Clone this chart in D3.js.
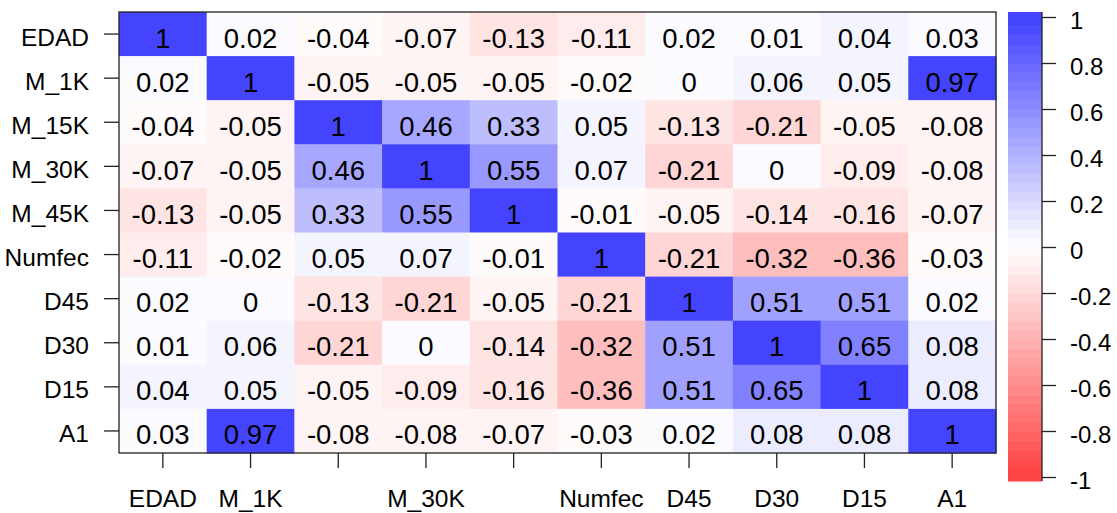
<!DOCTYPE html>
<html>
<head>
<meta charset="UTF-8">
<title>Correlation matrix</title>
<style>
  body { margin: 0; background: #fff; }
  text { font-family: "Liberation Sans", Arial, sans-serif; fill: #000; }
</style>
</head>
<body>
<svg></svg>
<script src="https://d3js.org/d3.v7.min.js"></script>
<script>

const width = 1117, height = 513;

// variables (rows top to bottom, columns left to right)
const vars = ["EDAD", "M_1K", "M_15K", "M_30K", "M_45K", "Numfec", "D45", "D30", "D15", "A1"];
// x axis only shows some of the labels
const xLabels = ["EDAD", "M_1K", "", "M_30K", "", "Numfec", "D45", "D30", "D15", "A1"];

const corr = [
  [1, 0.02, -0.04, -0.07, -0.13, -0.11, 0.02, 0.01, 0.04, 0.03],
  [0.02, 1, -0.05, -0.05, -0.05, -0.02, 0, 0.06, 0.05, 0.97],
  [-0.04, -0.05, 1, 0.46, 0.33, 0.05, -0.13, -0.21, -0.05, -0.08],
  [-0.07, -0.05, 0.46, 1, 0.55, 0.07, -0.21, 0, -0.09, -0.08],
  [-0.13, -0.05, 0.33, 0.55, 1, -0.01, -0.05, -0.14, -0.16, -0.07],
  [-0.11, -0.02, 0.05, 0.07, -0.01, 1, -0.21, -0.32, -0.36, -0.03],
  [0.02, 0, -0.13, -0.21, -0.05, -0.21, 1, 0.51, 0.51, 0.02],
  [0.01, 0.06, -0.21, 0, -0.14, -0.32, 0.51, 1, 0.65, 0.08],
  [0.04, 0.05, -0.05, -0.09, -0.16, -0.36, 0.51, 0.65, 1, 0.08],
  [0.03, 0.97, -0.08, -0.08, -0.07, -0.03, 0.02, 0.08, 0.08, 1]
];

const legendTicks = [1, 0.8, 0.6, 0.4, 0.2, 0, -0.2, -0.4, -0.6, -0.8, -1];

const svg = d3.select("svg")
    .attr("width", width)
    .attr("height", height);

const plot = {left: 119, top: 12, right: 996, bottom: 453};

const x = d3.scaleBand()
    .domain(d3.range(vars.length))
    .range([plot.left, plot.right]);

const y = d3.scaleBand()
    .domain(d3.range(vars.length))
    .range([plot.top, plot.bottom]);

const color = d3.scaleLinear()
    .domain([-1, 0, 1])
    .range(["#ff4040", "#ffffff", "#4040ff"]);

// colours come in bands of 0.04, like the key
const nBands = 50;
const bandStep = 2 / nBands;
function bandColor(v) {
    let k = Math.floor((v + 1) / bandStep);
    if (k >= nBands) k = nBands - 1;
    if (k < 0) k = 0;
    return color(-1 + (k + 0.5) * bandStep);
}

const cells = [];
corr.forEach((row, i) => row.forEach((v, j) => cells.push({i, j, v})));

svg.append("g")
    .selectAll("rect")
    .data(cells)
    .join("rect")
    .attr("x", d => x(d.j))
    .attr("y", d => y(d.i))
    .attr("width", x.bandwidth() + 0.5)
    .attr("height", y.bandwidth() + 0.5)
    .attr("fill", d => bandColor(d.v));

svg.append("g")
    .selectAll("text")
    .data(cells)
    .join("text")
    .attr("x", d => x(d.j) + x.bandwidth() / 2)
    .attr("y", d => y(d.i) + y.bandwidth() / 2)
    .attr("dy", "0.49em")
    .attr("text-anchor", "middle")
    .style("font-size", "27.5px")
    .text(d => d.v);

svg.append("rect")
    .attr("x", plot.left)
    .attr("y", plot.top)
    .attr("width", plot.right - plot.left)
    .attr("height", plot.bottom - plot.top)
    .attr("fill", "none")
    .attr("stroke", "#222")
    .attr("stroke-width", 1.3);

// y axis
const yAxis = svg.append("g")
    .attr("transform", "translate(" + plot.left + ",0)")
    .call(d3.axisLeft(y).tickSize(15).tickPadding(15).tickFormat(i => vars[i]));
yAxis.select(".domain").remove();
yAxis.selectAll("line").attr("stroke", "#222").attr("stroke-width", 1.3);
yAxis.selectAll("text").style("font-size", "24.5px").attr("font-family", null).attr("dy", "0.47em");

// x axis
const xAxis = svg.append("g")
    .attr("transform", "translate(0," + plot.bottom + ")")
    .call(d3.axisBottom(x).tickSize(15).tickPadding(22).tickFormat(i => xLabels[i]));
xAxis.select(".domain").remove();
xAxis.selectAll("line").attr("stroke", "#222").attr("stroke-width", 1.3);
xAxis.selectAll("text").style("font-size", "24.5px").attr("font-family", null);

// colour key
const key = {left: 1008, right: 1042, top: 12, bottom: 481};
const ky = d3.scaleLinear().domain([-1, 1]).range([477, 17]);

const bands = d3.range(nBands).map(k => -1 + k * bandStep);
svg.append("g")
    .selectAll("rect")
    .data(bands)
    .join("rect")
    .attr("x", key.left)
    .attr("width", key.right - key.left)
    .attr("y", d => {
        let top = ky(d + bandStep);
        if (d + bandStep >= 1) top = key.top;
        return top;
    })
    .attr("height", d => {
        let top = ky(d + bandStep), bot = ky(d);
        if (d + bandStep >= 1) top = key.top;
        if (d <= -1) bot = key.bottom;
        return bot - top + 0.5;
    })
    .attr("fill", d => color(d + bandStep / 2));

const keyAxis = svg.append("g")
    .attr("transform", "translate(" + key.right + ",0)")
    .call(d3.axisRight(ky).tickValues(legendTicks).tickSize(14).tickPadding(14).tickFormat(d => d));
keyAxis.select(".domain").attr("d", "M0," + key.top + "V" + key.bottom).attr("stroke", "#222").attr("stroke-width", 1.3);
keyAxis.selectAll("line").attr("stroke", "#222").attr("stroke-width", 1.3);
keyAxis.selectAll("text").style("font-size", "24px").attr("font-family", null).attr("dy", "0.47em");

</script>
</body>
</html>
